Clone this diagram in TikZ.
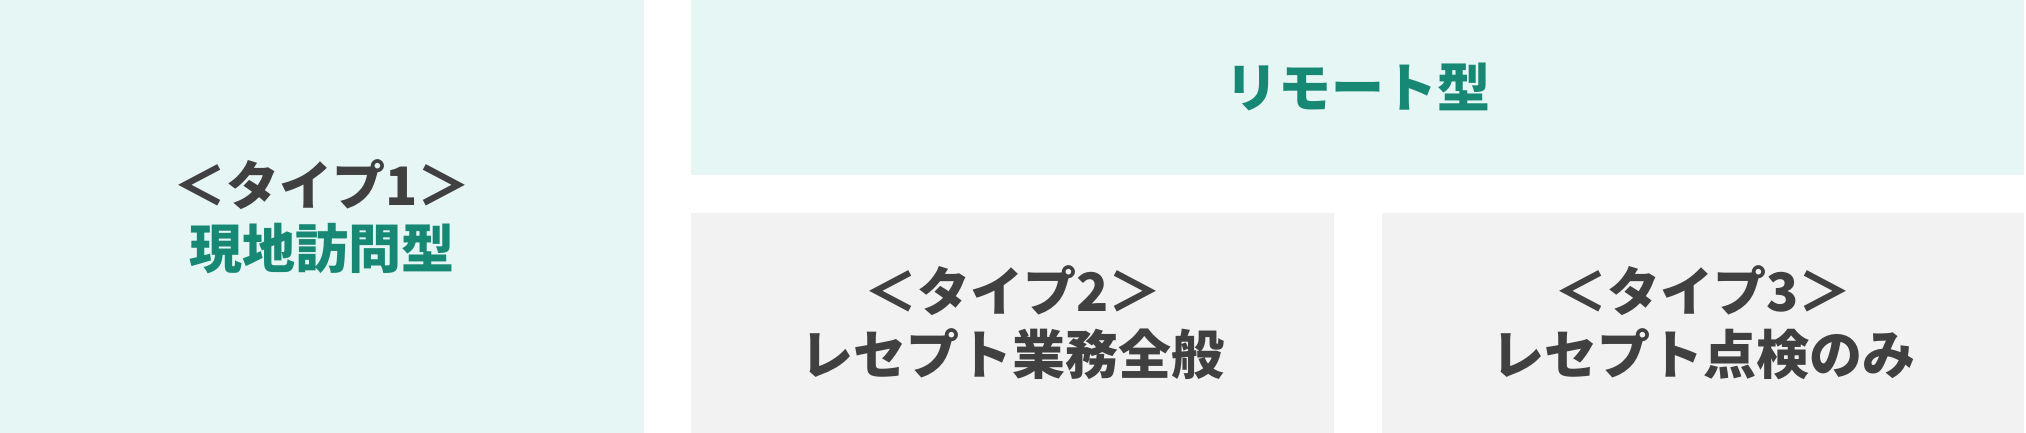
\documentclass[tikz,border=0pt]{standalone}
\usepackage{fontspec}
\setmainfont{Noto Sans CJK JP}
\definecolor{paleteal}{HTML}{E6F6F5}
\definecolor{palegray}{HTML}{F2F2F2}
\definecolor{deepteal}{HTML}{168874}
\definecolor{inkgray}{HTML}{404040}
\tikzset{
  typebox/.style={anchor=south west, inner sep=0pt, align=center, text=inkgray,
    font=\fontsize{53}{63}\selectfont\bfseries},
}
\begin{document}
\begin{tikzpicture}[x=1pt,y=1pt]
  \useasboundingbox (0,0) rectangle (2026,433);
  \node [typebox, fill=paleteal, minimum width=644pt, minimum height=433pt] (visit) at (0,0)
    {＜タイプ1＞\\ \textcolor{deepteal}{現地訪問型}};
  \node [typebox, fill=paleteal, text=deepteal, minimum width=1333pt, minimum height=175pt] (remote) at (691,258)
    {リモート型};
  \node [typebox, fill=palegray, minimum width=643pt, minimum height=220pt] (type2) at (691,0)
    {＜タイプ2＞\\ レセプト業務全般};
  \node [typebox, fill=palegray, minimum width=642pt, minimum height=220pt] (type3) at (1382,0)
    {＜タイプ3＞\\ レセプト点検のみ};
\end{tikzpicture}
\end{document}
